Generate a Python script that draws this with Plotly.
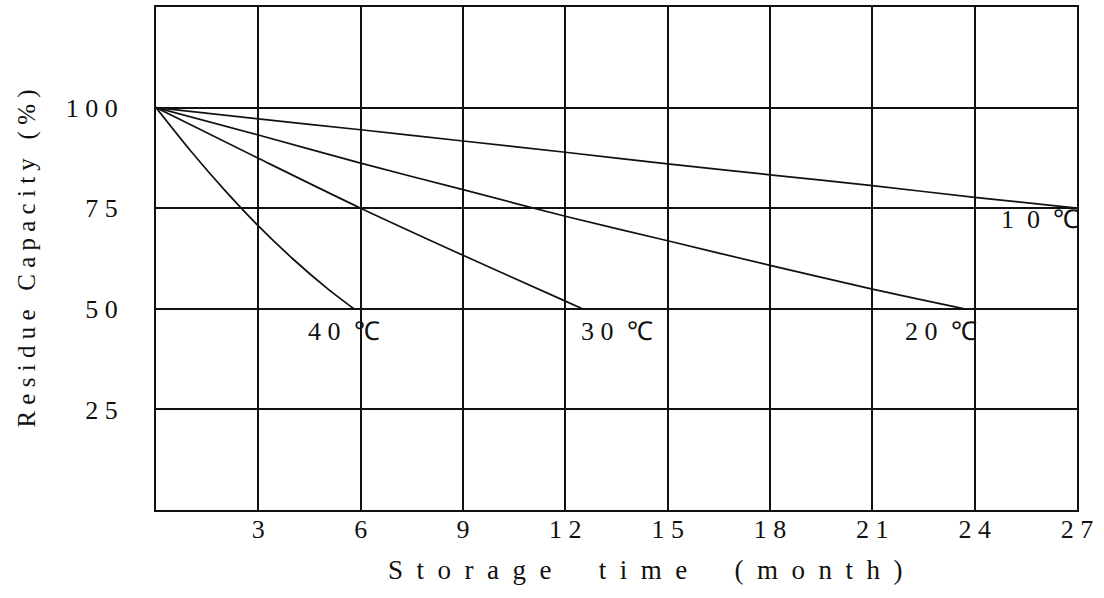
import plotly.graph_objects as go

# Storage time (month) and residue capacity (%)
t40 = [0, 1, 2, 3, 4, 5, 5.8]
c40 = [100, 89.4, 79.6, 70.6, 62.5, 55.2, 50]

t30 = [0, 3, 6, 9, 12, 12.5]
c30 = [100, 87.4, 75, 63.3, 51.9, 50]

t20 = [0, 3, 6, 9, 12, 15, 18, 21, 23.7]
c20 = [100, 93.2, 86.2, 79.6, 73, 66.9, 60.8, 54.9, 50]

t10 = [0, 3, 6, 9, 12, 15, 18, 21, 24, 27]
c10 = [100, 97.2, 94.5, 91.7, 88.9, 86.0, 83.3, 80.6, 77.7, 75]

series_labels = ["40 ℃", "30 ℃", "20 ℃", "10 ℃"]

x_ticks = [3, 6, 9, 12, 15, 18, 21, 24, 27]
x_ticktext = ["3", "6", "9", "12", "15", "18", "21", "24", "27"]
y_ticks = [25, 50, 75, 100]
y_ticktext = ["25", "50", "75", "100"]

NB = "\u00a0"
x_title_words = ["Storage", "time", "(month)"]
y_title_words = ["Residue", "Capacity", "(%)"]

FONT = "Liberation Serif, Times New Roman, serif"
INK = "#111111"


def spaced(words, sep, gap):
    return gap.join(sep.join(list(w)) for w in words)


def label_text(s, sep=NB):
    num, unit = s.split(" ")
    return sep.join(list(num)) + NB + NB + unit


fig = go.Figure()
for xs, ys in [(t40, c40), (t30, c30), (t20, c20), (t10, c10)]:
    fig.add_trace(go.Scatter(x=xs, y=ys, mode="lines",
                             line=dict(color=INK, width=1.7, shape="spline", smoothing=0.8),
                             showlegend=False, hoverinfo="skip", cliponaxis=False))

# curve labels (data coordinates)
label_pos = [(5.5, 44.3, "center", 0), (13.5, 44.3, "center", 0), (23.0, 44.3, "center", 0), (27, 72.3, "right", 4)]
for (lx, ly, anc, dx), txt in zip(label_pos, series_labels):
    sep = NB + NB if anc == "right" else NB
    fig.add_annotation(x=lx, y=ly, text=label_text(txt, sep), showarrow=False, xanchor=anc, yanchor="middle",
                       xshift=dx, font=dict(family=FONT, size=26, color=INK))

# x-axis title (slightly right of centre as in the reference)
fig.add_annotation(xref="paper", yref="paper", x=0.5, y=0, xshift=28, yshift=-60,
                   xanchor="center", yanchor="middle", showarrow=False,
                   text=spaced(x_title_words, NB * 2, NB * 7),
                   font=dict(family=FONT, size=27, color=INK))

fig.update_xaxes(range=[0, 27], tickvals=x_ticks, ticktext=[NB.join(list(t)) for t in x_ticktext],
                 showgrid=True, gridcolor=INK, gridwidth=1.7,
                 showline=True, linecolor=INK, linewidth=2, mirror=True,
                 zeroline=False, ticks="", ticklabelstandoff=-5,
                 tickfont=dict(family=FONT, size=26, color=INK))
fig.update_yaxes(range=[0, 125], tickvals=y_ticks, ticktext=[NB.join(list(t)) for t in y_ticktext],
                 showgrid=True, gridcolor=INK, gridwidth=1.7,
                 showline=True, linecolor=INK, linewidth=2, mirror=True,
                 zeroline=False, ticks="", ticklabelstandoff=31,
                 tickfont=dict(family=FONT, size=26, color=INK),
                 title=dict(text=spaced(y_title_words, NB, NB * 3),
                            font=dict(family=FONT, size=25, color=INK), standoff=23))

fig.update_layout(width=1104, height=598, margin=dict(l=156, r=27, t=5, b=88),
                  plot_bgcolor="white", paper_bgcolor="white")

fig.write_html("out.html", config={"displayModeBar": False},
               post_script="document.body.style.margin='0';")
